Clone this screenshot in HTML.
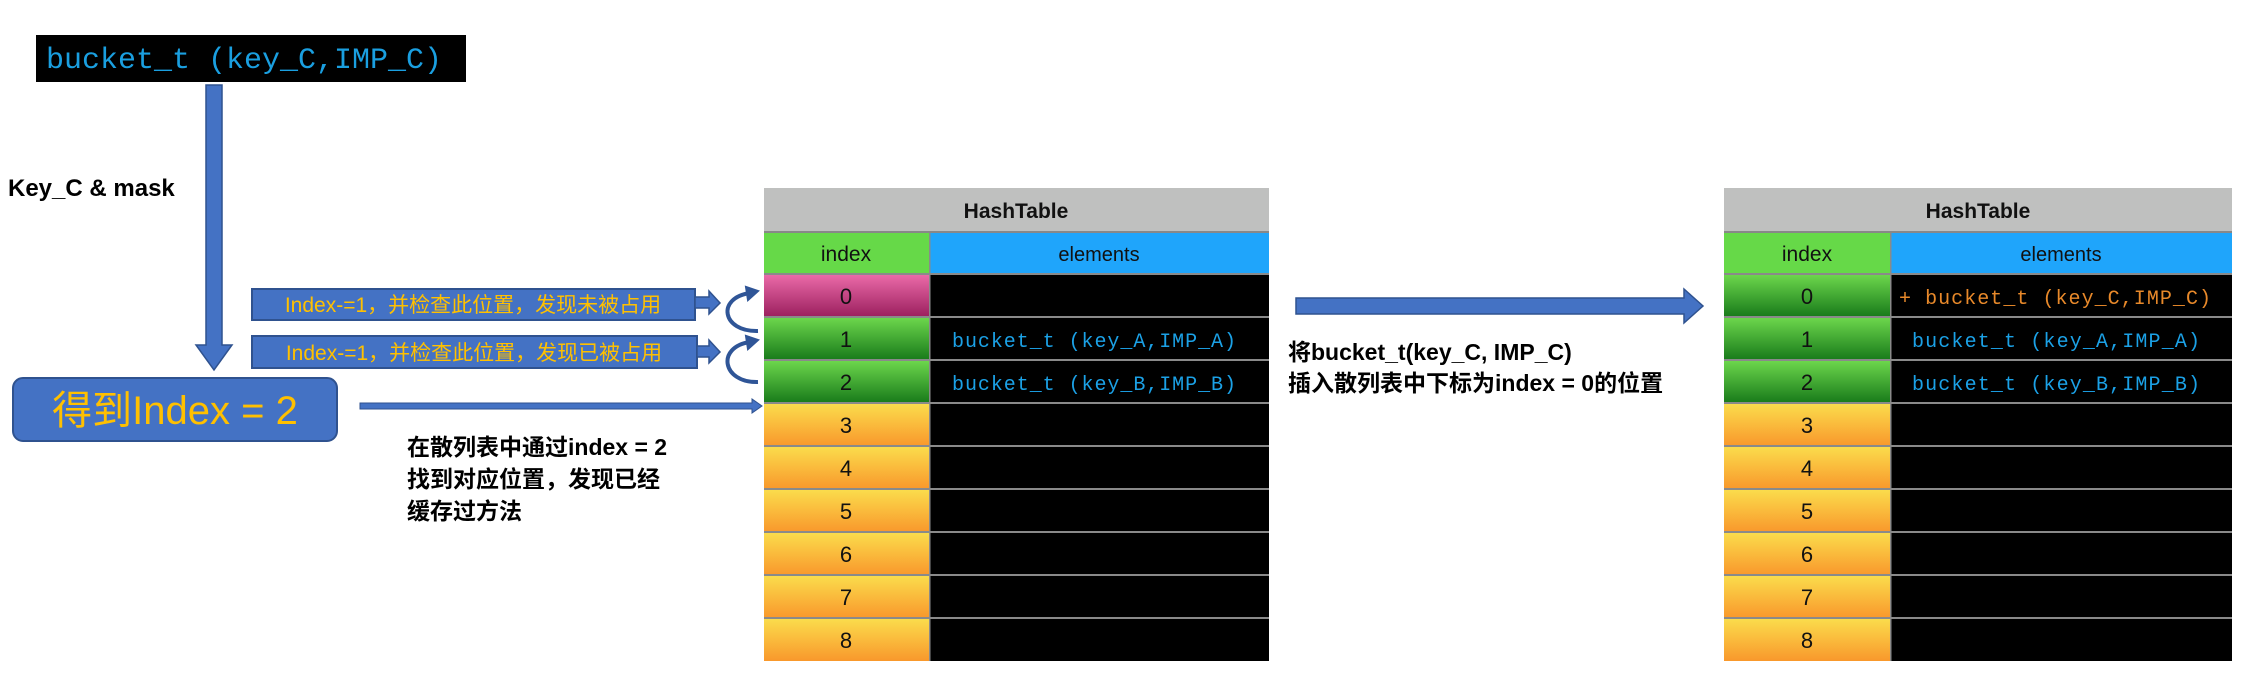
<!DOCTYPE html>
<html><head><meta charset="utf-8"><style>
html,body{margin:0;padding:0;background:#fff;width:2256px;height:680px;overflow:hidden}
svg{display:block}
</style></head><body>
<svg width="2256" height="680" viewBox="0 0 2256 680" xmlns="http://www.w3.org/2000/svg">
<defs>
<linearGradient id="gm" x1="0" y1="0" x2="0" y2="1"><stop offset="0" stop-color="#ea6aa8"/><stop offset="1" stop-color="#9b1f5e"/></linearGradient>
<linearGradient id="gg" x1="0" y1="0" x2="0" y2="1"><stop offset="0" stop-color="#6cd64c"/><stop offset="1" stop-color="#187a1a"/></linearGradient>
<linearGradient id="go" x1="0" y1="0" x2="0" y2="1"><stop offset="0" stop-color="#fadc4c"/><stop offset="1" stop-color="#f9982c"/></linearGradient>
</defs>
<style>
.s{font-family:"Liberation Sans","Noto Sans CJK SC",sans-serif}
.m{font-family:"Liberation Mono","DejaVu Sans Mono",monospace}
</style>

<!-- top black box -->
<rect x="36" y="35" width="430" height="47" fill="#000"/>
<text x="46" y="68" class="m" font-size="30" fill="#1a9fe0">bucket_t (key_C,IMP_C)</text>

<!-- vertical arrow -->
<path d="M206 85 H222 V345 H232 L214 370 L196 345 H206 Z" fill="#4472c4" stroke="#2f528f" stroke-width="1.5"/>
<text x="8" y="196" class="s" font-size="24" font-weight="bold" fill="#000">Key_C &amp; mask</text>

<!-- orange label boxes -->
<rect x="252" y="289" width="443" height="31" fill="#4472c4" stroke="#2f528f" stroke-width="2"/>
<text x="473" y="312" class="s" font-size="21" fill="#ffc000" text-anchor="middle">Index-=1，并检查此位置，发现未被占用</text>
<path d="M695 297 H709 V291 L720 303 L709 314 V308 H695 Z" fill="#4472c4" stroke="#2f528f" stroke-width="1.5"/>
<rect x="252" y="336" width="445" height="32" fill="#4472c4" stroke="#2f528f" stroke-width="2"/>
<text x="474" y="360" class="s" font-size="21" fill="#ffc000" text-anchor="middle">Index-=1，并检查此位置，发现已被占用</text>
<path d="M697 346 H709 V340 L720 352 L709 363 V357 H697 Z" fill="#4472c4" stroke="#2f528f" stroke-width="1.5"/>

<!-- curved arrows -->
<path d="M758 331 C722 332,716 298,750 293" fill="none" stroke="#2f5597" stroke-width="4"/>
<path d="M746 287 L758 291 L748 300 Z" fill="#2f5597" stroke="#2f5597" stroke-width="2"/>
<path d="M758 382 C722 383,716 347,750 342" fill="none" stroke="#2f5597" stroke-width="4"/>
<path d="M746 336 L758 340 L748 349 Z" fill="#2f5597" stroke="#2f5597" stroke-width="2"/>

<!-- rounded box -->
<rect x="13" y="378" width="324" height="63" rx="10" fill="#4472c4" stroke="#2f528f" stroke-width="2"/>
<text x="175" y="424" class="s" font-size="40" fill="#ffc000" text-anchor="middle">得到Index = 2</text>

<!-- horizontal arrow -->
<path d="M360 403 H752 V399 L762 406 L752 413 V409 H360 Z" fill="#4472c4" stroke="#2f528f" stroke-width="1"/>

<text x="407" y="455" class="s" font-size="23" font-weight="bold" fill="#000">在散列表中通过index = 2</text>
<text x="407" y="487" class="s" font-size="23" font-weight="bold" fill="#000">找到对应位置，发现已经</text>
<text x="407" y="519" class="s" font-size="23" font-weight="bold" fill="#000">缓存过方法</text>

<!-- big arrow -->
<path d="M1296 298 H1684 V289 L1703 306 L1684 323 V314 H1296 Z" fill="#4472c4" stroke="#2f528f" stroke-width="1.5"/>
<text x="1288" y="360" class="s" font-size="23" font-weight="bold" fill="#000">将bucket_t(key_C, IMP_C)</text>
<text x="1288" y="391" class="s" font-size="23" font-weight="bold" fill="#000">插入散列表中下标为index = 0的位置</text>

<!-- TABLE 1 -->
<g>
<rect x="764" y="188" width="505" height="43" fill="#bfc0bf"/>
<text x="1016" y="218" class="s" font-size="21" font-weight="bold" fill="#111" text-anchor="middle">HashTable</text>
<rect x="764" y="231" width="505" height="2" fill="#888"/>
<rect x="764" y="233" width="165" height="41" fill="#66d948"/>
<rect x="930" y="233" width="339" height="41" fill="#1fa5fb"/>
<text x="846" y="261" class="s" font-size="21" fill="#111" text-anchor="middle">index</text>
<text x="1099" y="261" class="s" font-size="20" fill="#111" text-anchor="middle">elements</text>
<rect x="764" y="274" width="505" height="387" fill="#000"/>
<rect x="764" y="275" width="165" height="42" fill="url(#gm)"/>
<rect x="764" y="318" width="165" height="42" fill="url(#gg)"/>
<rect x="764" y="361" width="165" height="42" fill="url(#gg)"/>
<rect x="764" y="404" width="165" height="42" fill="url(#go)"/>
<rect x="764" y="447" width="165" height="42" fill="url(#go)"/>
<rect x="764" y="490" width="165" height="42" fill="url(#go)"/>
<rect x="764" y="533" width="165" height="42" fill="url(#go)"/>
<rect x="764" y="576" width="165" height="42" fill="url(#go)"/>
<rect x="764" y="619" width="165" height="42" fill="url(#go)"/>
<g fill="#8a8a8a">
<rect x="764" y="273" width="505" height="2"/><rect x="764" y="316" width="505" height="2"/><rect x="764" y="359" width="505" height="2"/><rect x="764" y="402" width="505" height="2"/><rect x="764" y="445" width="505" height="2"/><rect x="764" y="488" width="505" height="2"/><rect x="764" y="531" width="505" height="2"/><rect x="764" y="574" width="505" height="2"/><rect x="764" y="617" width="505" height="2"/>
<rect x="929" y="233" width="1.5" height="428"/>
</g>
<g class="s" font-size="22" fill="#111" text-anchor="middle">
<text x="846" y="304">0</text><text x="846" y="347">1</text><text x="846" y="390">2</text><text x="846" y="433">3</text><text x="846" y="476">4</text><text x="846" y="519">5</text><text x="846" y="562">6</text><text x="846" y="605">7</text><text x="846" y="648">8</text>
</g>
<text x="952" y="347" class="m" font-size="20" fill="#1ba1e6" textLength="284">bucket_t (key_A,IMP_A)</text>
<text x="952" y="390" class="m" font-size="20" fill="#1ba1e6" textLength="284">bucket_t (key_B,IMP_B)</text>
</g>

<!-- TABLE 2 -->
<g>
<rect x="1724" y="188" width="508" height="43" fill="#bfc0bf"/>
<text x="1978" y="218" class="s" font-size="21" font-weight="bold" fill="#111" text-anchor="middle">HashTable</text>
<rect x="1724" y="231" width="508" height="2" fill="#888"/>
<rect x="1724" y="233" width="166" height="41" fill="#66d948"/>
<rect x="1891" y="233" width="341" height="41" fill="#1fa5fb"/>
<text x="1807" y="261" class="s" font-size="21" fill="#111" text-anchor="middle">index</text>
<text x="2061" y="261" class="s" font-size="20" fill="#111" text-anchor="middle">elements</text>
<rect x="1724" y="274" width="508" height="387" fill="#000"/>
<rect x="1724" y="275" width="166" height="42" fill="url(#gg)"/>
<rect x="1724" y="318" width="166" height="42" fill="url(#gg)"/>
<rect x="1724" y="361" width="166" height="42" fill="url(#gg)"/>
<rect x="1724" y="404" width="166" height="42" fill="url(#go)"/>
<rect x="1724" y="447" width="166" height="42" fill="url(#go)"/>
<rect x="1724" y="490" width="166" height="42" fill="url(#go)"/>
<rect x="1724" y="533" width="166" height="42" fill="url(#go)"/>
<rect x="1724" y="576" width="166" height="42" fill="url(#go)"/>
<rect x="1724" y="619" width="166" height="42" fill="url(#go)"/>
<g fill="#8a8a8a">
<rect x="1724" y="273" width="508" height="2"/><rect x="1724" y="316" width="508" height="2"/><rect x="1724" y="359" width="508" height="2"/><rect x="1724" y="402" width="508" height="2"/><rect x="1724" y="445" width="508" height="2"/><rect x="1724" y="488" width="508" height="2"/><rect x="1724" y="531" width="508" height="2"/><rect x="1724" y="574" width="508" height="2"/><rect x="1724" y="617" width="508" height="2"/>
<rect x="1890" y="233" width="1.5" height="428"/>
</g>
<g class="s" font-size="22" fill="#111" text-anchor="middle">
<text x="1807" y="304">0</text><text x="1807" y="347">1</text><text x="1807" y="390">2</text><text x="1807" y="433">3</text><text x="1807" y="476">4</text><text x="1807" y="519">5</text><text x="1807" y="562">6</text><text x="1807" y="605">7</text><text x="1807" y="648">8</text>
</g>
<text x="1899" y="304" class="m" font-size="20" fill="#e8892a" textLength="312">+ bucket_t (key_C,IMP_C)</text>
<text x="1912" y="347" class="m" font-size="20" fill="#1ba1e6" textLength="288">bucket_t (key_A,IMP_A)</text>
<text x="1912" y="390" class="m" font-size="20" fill="#1ba1e6" textLength="288">bucket_t (key_B,IMP_B)</text>
</g>
</svg>
</body></html>
